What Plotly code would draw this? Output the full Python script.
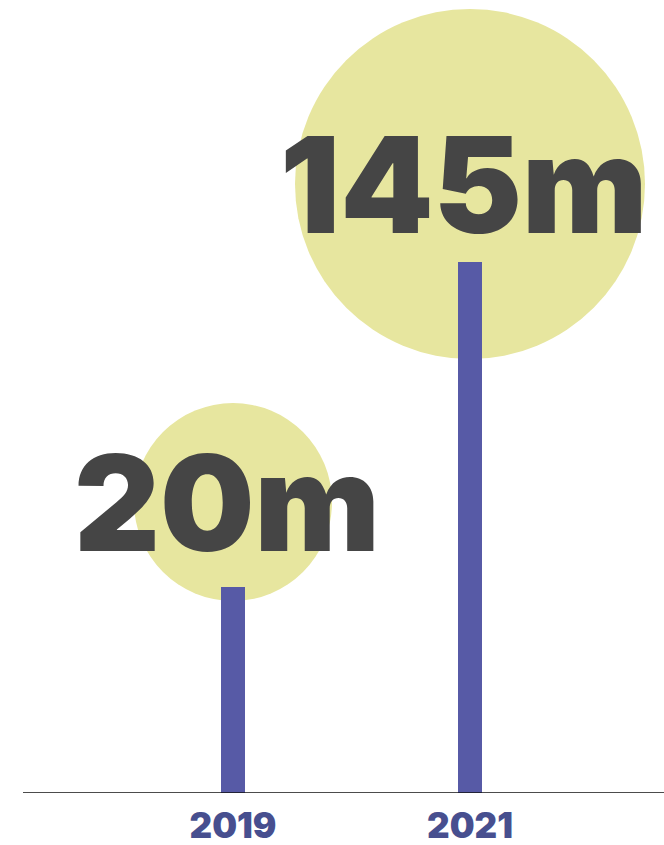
import plotly.graph_objects as go

# ---- data ----
years = ["2019", "2021"]
amounts_m = [20, 145]                      # value shown in the bubble (millions)
labels = [f"{v}m" for v in amounts_m]
stem_height = [206, 531]                   # stem heights (chart units)
bubble_center = [291, 609]                 # bubble centre height (chart units)
bubble_radius = [99, 175]                  # bubble radius (chart units / px)

# ---- style ----
W, H = 664, 845
ML, MR, MT, MB = 23, 0, 0, 52
PX_PER_CAT = 237
X_RANGE = [-(233 - ML) / PX_PER_CAT, 1 + (664 - 470) / PX_PER_CAT]
Y_RANGE = [0, H - MT - MB]

STEM_COLOR = "#575aa6"
BUBBLE_COLOR = "#e7e69f"
TEXT_COLOR = "#454545"
TICK_COLOR = "#474f8f"
FONT = "Inter"

fig = go.Figure()

fig.add_trace(go.Bar(
    x=years, y=stem_height, width=24 / PX_PER_CAT,
    marker=dict(color=STEM_COLOR, line=dict(width=0)),
    hoverinfo="skip", showlegend=False,
))

shapes = []
for i, (cy, r) in enumerate(zip(bubble_center, bubble_radius)):
    shapes.append(dict(
        type="circle", xref="x", yref="y", layer="below",
        x0=i - r / PX_PER_CAT, x1=i + r / PX_PER_CAT,
        y0=cy - r, y1=cy + r,
        fillcolor=BUBBLE_COLOR, line=dict(width=0),
    ))
# baseline
shapes.append(dict(type="line", xref="paper", yref="y", x0=0, x1=1, y0=0, y1=0,
                   line=dict(color="#111111", width=1.5), layer="above"))

annotations = []
for i, (lab, cy) in enumerate(zip(labels, bubble_center)):
    annotations.append(dict(
        x=i - 6 / PX_PER_CAT, y=cy, xref="x", yref="y", text=lab, showarrow=False,
        xanchor="center", yanchor="middle",
        font=dict(family=FONT, size=133, color=TEXT_COLOR, weight=900),
    ))

fig.update_layout(
    width=W, height=H,
    margin=dict(l=ML, r=MR, t=MT, b=MB, autoexpand=False),
    paper_bgcolor="white", plot_bgcolor="white",
    shapes=shapes, annotations=annotations,
    bargap=0,
    xaxis=dict(
        type="category", range=X_RANGE, showgrid=False, zeroline=False,
        showline=False, ticks="outside", ticklen=2, tickcolor="rgba(0,0,0,0)",
        tickfont=dict(family=FONT, size=35, color=TICK_COLOR, weight=900),
        automargin=False, fixedrange=True,
    ),
    yaxis=dict(range=Y_RANGE, visible=False, fixedrange=True, automargin=False),
    showlegend=False,
)

fig.write_html("out.html")
